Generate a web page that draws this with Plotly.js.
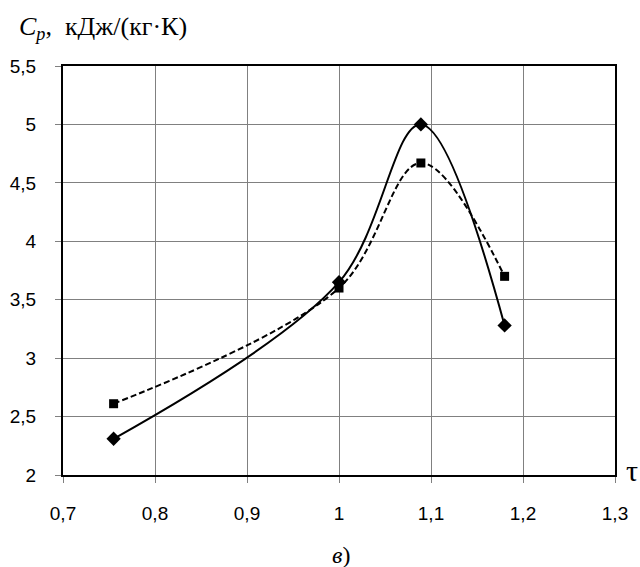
<!DOCTYPE html>
<html>
<head>
<meta charset="utf-8">
<script src="https://cdn.plot.ly/plotly-3.0.1.min.js"></script>
<style>
  html, body { margin: 0; padding: 0; background: #fff; }
  #chart { width: 640px; height: 567px; }
</style>
</head>
<body>
<div id="chart"></div>
<script>
// Reduced temperature τ and specific heat capacity Cp, kJ/(kg·K)
const tau = [0.755, 1.0, 1.089, 1.18];
const cpSolid = [2.31, 3.65, 5.0, 3.28];
const cpDashed = [2.61, 3.60, 4.67, 3.70];

const xTickVals = [0.7, 0.8, 0.9, 1.0, 1.1, 1.2, 1.3];
const xTickText = ['0,7', '0,8', '0,9', '1', '1,1', '1,2', '1,3'];
const yTickVals = [2, 2.5, 3, 3.5, 4, 4.5, 5, 5.5];
const yTickText = ['2', '2,5', '3', '3,5', '4', '4,5', '5', '5,5'];

const serif = 'Liberation Serif, Times New Roman, serif';
const sans = 'Liberation Sans, Arial, sans-serif';

const traces = [
  {
    x: tau, y: cpDashed, type: 'scatter', mode: 'lines+markers',
    line: { color: '#000', width: 2, dash: '6px,3px', shape: 'spline', smoothing: 1 },
    marker: { symbol: 'square', size: 9, color: '#000' },
    hoverinfo: 'x+y'
  },
  {
    x: tau, y: cpSolid, type: 'scatter', mode: 'lines+markers',
    line: { color: '#000', width: 2, shape: 'spline', smoothing: 1 },
    marker: { symbol: 'diamond', size: 11, color: '#000' },
    hoverinfo: 'x+y'
  }
];

const layout = {
  width: 640, height: 567,
  margin: { l: 63, r: 25, t: 66, b: 92 },
  paper_bgcolor: '#fff', plot_bgcolor: '#fff',
  showlegend: false,
  font: { family: sans, size: 19, color: '#000' },
  xaxis: {
    range: [0.7, 1.3], tickvals: xTickVals, ticktext: xTickText,
    showgrid: true, gridcolor: '#808080', gridwidth: 1,
    showline: true, linecolor: '#000', linewidth: 2, mirror: true,
    ticks: 'outside', ticklen: 6, tickcolor: '#808080', tickwidth: 1,
    ticklabelstandoff: 14,
    zeroline: false, fixedrange: true,
    tickfont: { family: sans, size: 19, color: '#000' }
  },
  yaxis: {
    range: [2, 5.5], tickvals: yTickVals, ticktext: yTickText,
    showgrid: true, gridcolor: '#808080', gridwidth: 1,
    showline: true, linecolor: '#000', linewidth: 2, mirror: true,
    ticks: 'outside', ticklen: 6, tickcolor: '#808080', tickwidth: 1,
    ticklabelstandoff: 15,
    zeroline: false, fixedrange: true,
    tickfont: { family: sans, size: 19, color: '#000' }
  },
  annotations: [
    {
      text: '<i>C</i><sub><i>p</i></sub>,  кДж/(кг·К)',
      xref: 'paper', yref: 'paper', x: -0.083, y: 1.093,
      xanchor: 'left', yanchor: 'middle', showarrow: false,
      font: { family: serif, size: 26, color: '#000' }
    },
    {
      text: 'τ',
      xref: 'paper', yref: 'paper', x: 1.031, y: 0.01,
      xanchor: 'center', yanchor: 'middle', showarrow: false,
      font: { family: serif, size: 30, color: '#000' }
    },
    {
      text: '<i>в</i>)',
      xref: 'paper', yref: 'paper', x: 0.504, y: -0.196,
      xanchor: 'center', yanchor: 'middle', showarrow: false,
      font: { family: serif, size: 24, color: '#000' }
    }
  ]
};

Plotly.newPlot('chart', traces, layout, { staticPlot: true, displayModeBar: false });
</script>
</body>
</html>
